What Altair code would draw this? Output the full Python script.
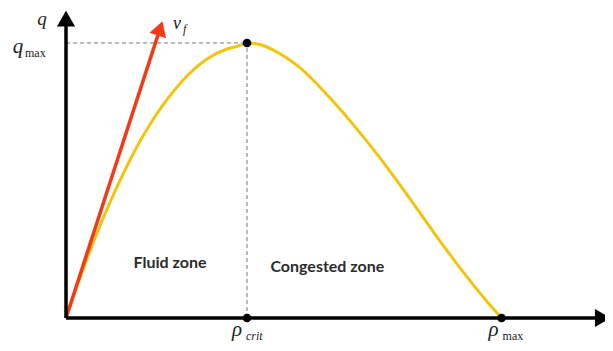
import math
import altair as alt
import pandas as pd

# ---- values (density rho vs flow q, arbitrary units) ----
rho_free = [0, 2.76, 5.33, 8.27, 11.39, 14.14, 17.82, 22.41, 25.9, 29.57, 31.4, 33.25]
q_free = [0, 13.96, 25.97, 38.31, 50.0, 59.09, 69.16, 78.9, 84.09, 87.34, 88.2, 89.3]
rho_cong = [35.6, 38.1, 43.0, 48.0, 52.8, 57.7, 62.7, 67.5, 72.4, 77.4, 80.0]
q_cong = [88.8, 87.0, 81.2, 72.4, 62.7, 51.9, 39.9, 27.9, 16.2, 5.2, 0]
rho_crit = 33.25
rho_max = 80.0
q_max = 89.3
vf_tip = [17.8, 96.8]          # end of the free-flow speed arrow
zone_labels = ["Fluid zone", "Congested zone"]
zone_pos_rho = [19.1, 48.0]
zone_pos_q = [17.9, 16.6]

# ---- layout ----
X_DOMAIN = [0, 99]
Y_DOMAIN = [0, 100]
W, H = 539, 308
PXX = W / (X_DOMAIN[1] - X_DOMAIN[0])
PXY = H / (Y_DOMAIN[1] - Y_DOMAIN[0])

xs = alt.Scale(domain=X_DOMAIN, nice=False, zero=False)
ys = alt.Scale(domain=Y_DOMAIN, nice=False, zero=False)


def enc(**extra):
    d = dict(x=alt.X("x:Q", scale=xs, axis=None), y=alt.Y("y:Q", scale=ys, axis=None))
    d.update(extra)
    return d


SERIF = "Liberation Serif"

# curve
curve_df = pd.DataFrame({"x": rho_free + rho_cong, "y": q_free + q_cong})
curve = alt.Chart(curve_df).mark_line(
    color="#f2c40f", strokeWidth=3, interpolate="monotone"
).encode(**enc())

# dashed guides
guides_df = pd.DataFrame({
    "x": [0, rho_crit], "y": [q_max, 0], "x2": [rho_crit, rho_crit], "y2": [q_max, q_max]
})
guides = alt.Chart(guides_df).mark_rule(
    color="#777777", strokeWidth=1, strokeDash=[4, 3]
).encode(**enc(x2="x2:Q", y2="y2:Q"))

# axes
axes_df = pd.DataFrame({"x": [0, 0], "y": [0, 0], "x2": [97.5, 0], "y2": [0, 96]})
axes = alt.Chart(axes_df).mark_rule(color="black", strokeWidth=3.5).encode(
    **enc(x2="x2:Q", y2="y2:Q")
)
heads_df = pd.DataFrame({"x": [98.6, 0], "y": [0, 97.2], "shape": ["triangle-right", "triangle-up"]})
heads = alt.Chart(heads_df).mark_point(filled=True, color="black", size=330, opacity=1).encode(
    **enc(shape=alt.Shape("shape:N", scale=None, legend=None))
)

# free-flow speed arrow
ang = math.atan2(vf_tip[0] * PXX, vf_tip[1] * PXY)
back = 9.0
head_x = vf_tip[0] - back * math.sin(ang) / PXX
head_y = vf_tip[1] - back * math.cos(ang) / PXY
red_line_df = pd.DataFrame({"x": [0, head_x], "y": [0, head_y]})
red_line = alt.Chart(red_line_df).mark_line(color="#f03a1a", strokeWidth=3.5).encode(**enc())
red_head = alt.Chart(pd.DataFrame({"x": [head_x], "y": [head_y]})).mark_point(
    shape="triangle-up", filled=True, color="#f03a1a", size=300, opacity=1,
    angle=math.degrees(ang)
).encode(**enc())

# dots
dots_df = pd.DataFrame({"x": [rho_crit, rho_crit, rho_max], "y": [q_max, 0, 0]})
dots = alt.Chart(dots_df).mark_point(filled=True, color="black", size=75, opacity=1).encode(**enc())


def txt(x, y, s, dx, dy, size, italic=True, align="center", font=SERIF, weight="normal",
        color="#222222", baseline="alphabetic"):
    return alt.Chart(pd.DataFrame({"x": [x], "y": [y], "t": [s]})).mark_text(
        dx=dx, dy=dy, fontSize=size, font=font, fontStyle="italic" if italic else "normal",
        fontWeight=weight, align=align, baseline=baseline, color=color
    ).encode(**enc(text="t:N"))


labels = [
    txt(0, Y_DOMAIN[1], "q", -24, 15, 19),
    txt(0, q_max, "q", -48, 10, 21),
    txt(0, q_max, "max", -41, 14, 12, italic=False, align="left"),
    txt(vf_tip[0], vf_tip[1], "v", 10, 9, 18, align="left"),
    txt(vf_tip[0], vf_tip[1], "f", 20, 13, 12, align="left"),
    txt(rho_crit, 0, "ρ", -10, 18, 21),
    txt(rho_crit, 0, "crit", -1, 22, 12, align="left"),
    txt(rho_max, 0, "ρ", -8, 18, 21),
    txt(rho_max, 0, "max", 1, 22, 12, italic=False, align="left"),
]
zones = alt.Chart(pd.DataFrame({"x": zone_pos_rho, "y": zone_pos_q, "t": zone_labels})).mark_text(
    font="Lato", fontWeight="bold", fontSize=16, color="#2b2b2b", baseline="middle"
).encode(**enc(text="t:N"))

chart = alt.layer(guides, curve, red_line, red_head, axes, heads, dots, zones, *labels).properties(
    width=W, height=H,
    autosize=alt.AutoSizeParams(type="none"),
    padding={"left": 58, "top": 2, "right": 0, "bottom": 25},
).configure_view(stroke=None)

chart.save("out.html", embed_options={"renderer": "svg", "actions": False})
